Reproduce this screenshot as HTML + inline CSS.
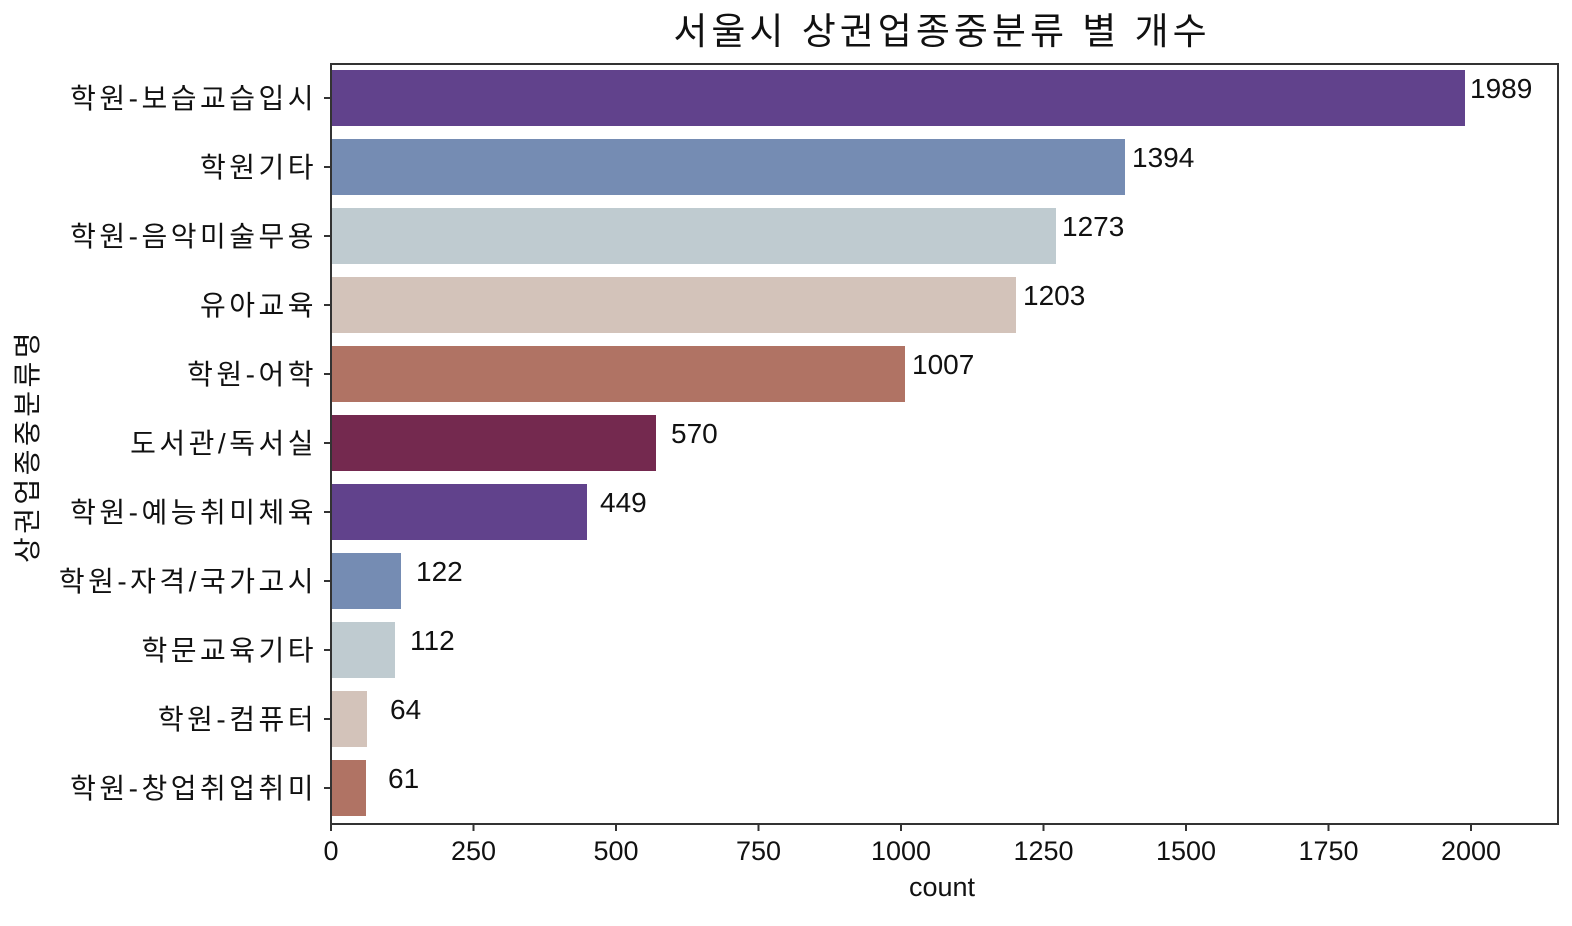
<!DOCTYPE html>
<html><head><meta charset="utf-8"><style>
body{margin:0;background:#fff;}
svg text{font-family:"Liberation Sans","Noto Sans CJK KR","NanumGothic",sans-serif;fill:#111;}
.k{letter-spacing:3.5px;}
</style></head><body>
<svg width="1572" height="921" xmlns="http://www.w3.org/2000/svg">
<rect width="1572" height="921" fill="#fff"/>
<text x="942" y="44" font-size="37" text-anchor="middle" style="letter-spacing:4px">서울시 상권업종중분류 별 개수</text>
<g id="bars">
<rect x="331" y="70" width="1134" height="56" fill="#61428c"/>
<rect x="331" y="139" width="794" height="56" fill="#758cb3"/>
<rect x="331" y="208" width="725" height="56" fill="#bfcbd0"/>
<rect x="331" y="277" width="685" height="56" fill="#d3c3ba"/>
<rect x="331" y="346" width="574" height="56" fill="#b07364"/>
<rect x="331" y="415" width="325" height="56" fill="#74294f"/>
<rect x="331" y="484" width="256" height="56" fill="#61428c"/>
<rect x="331" y="553" width="70" height="56" fill="#758cb3"/>
<rect x="331" y="622" width="64" height="56" fill="#bfcbd0"/>
<rect x="331" y="691" width="36" height="56" fill="#d3c3ba"/>
<rect x="331" y="760" width="35" height="56" fill="#b07364"/>
</g>
<g font-size="28">
<text x="1470" y="98">1989</text>
<text x="1132" y="167">1394</text>
<text x="1062" y="236">1273</text>
<text x="1023" y="305">1203</text>
<text x="912" y="374">1007</text>
<text x="671" y="443">570</text>
<text x="600" y="512">449</text>
<text x="416" y="581">122</text>
<text x="410" y="650">112</text>
<text x="390" y="719">64</text>
<text x="388" y="788">61</text>
</g>
<rect x="331" y="64" width="1227" height="760" fill="none" stroke="#333" stroke-width="2"/>
<g stroke="#333" stroke-width="2">
<line x1="324" x2="331" y1="98" y2="98"/><line x1="324" x2="331" y1="167" y2="167"/>
<line x1="324" x2="331" y1="236" y2="236"/><line x1="324" x2="331" y1="305" y2="305"/>
<line x1="324" x2="331" y1="374" y2="374"/><line x1="324" x2="331" y1="443" y2="443"/>
<line x1="324" x2="331" y1="512" y2="512"/><line x1="324" x2="331" y1="581" y2="581"/>
<line x1="324" x2="331" y1="650" y2="650"/><line x1="324" x2="331" y1="719" y2="719"/>
<line x1="324" x2="331" y1="788" y2="788"/>
<line x1="331" x2="331" y1="824" y2="831"/><line x1="473.5" x2="473.5" y1="824" y2="831"/>
<line x1="616" x2="616" y1="824" y2="831"/><line x1="758.5" x2="758.5" y1="824" y2="831"/>
<line x1="901" x2="901" y1="824" y2="831"/><line x1="1043.5" x2="1043.5" y1="824" y2="831"/>
<line x1="1186" x2="1186" y1="824" y2="831"/><line x1="1328.5" x2="1328.5" y1="824" y2="831"/>
<line x1="1471" x2="1471" y1="824" y2="831"/>
</g>
<g font-size="28" text-anchor="end" class="k">
<text x="317" y="108">학원-보습교습입시</text>
<text x="317" y="177">학원기타</text>
<text x="317" y="246">학원-음악미술무용</text>
<text x="317" y="315">유아교육</text>
<text x="317" y="384">학원-어학</text>
<text x="317" y="453">도서관/독서실</text>
<text x="317" y="522">학원-예능취미체육</text>
<text x="317" y="591">학원-자격/국가고시</text>
<text x="317" y="660">학문교육기타</text>
<text x="317" y="729">학원-컴퓨터</text>
<text x="317" y="798">학원-창업취업취미</text>
</g>
<g font-size="27" text-anchor="middle">
<text x="331" y="860">0</text><text x="473.5" y="860">250</text><text x="616" y="860">500</text>
<text x="758.5" y="860">750</text><text x="901" y="860">1000</text><text x="1043.5" y="860">1250</text>
<text x="1186" y="860">1500</text><text x="1328.5" y="860">1750</text><text x="1471" y="860">2000</text>
<text x="942" y="896">count</text>
<text transform="translate(37,446) rotate(-90)" style="letter-spacing:3.5px" font-size="28">상권업종중분류명</text>
</g>
</svg>
</body></html>
